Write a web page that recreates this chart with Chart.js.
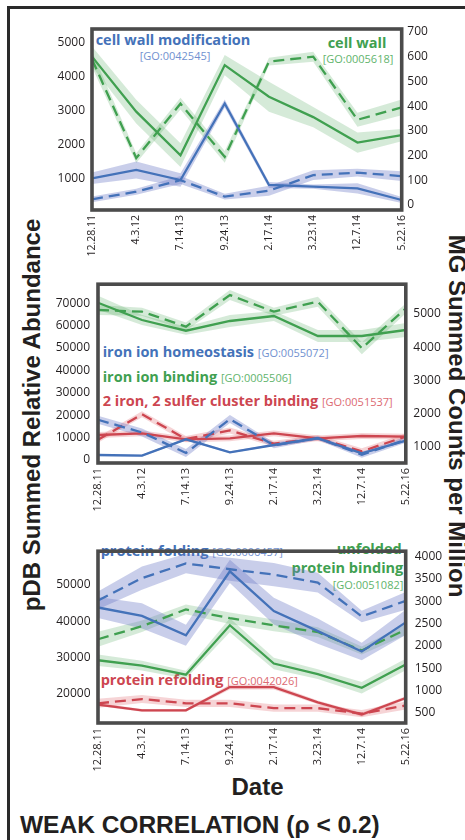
<!DOCTYPE html>
<html>
<head>
<meta charset="UTF-8">
<title>Weak correlation</title>
<script src="https://cdn.jsdelivr.net/npm/chart.js"></script>
<style>
  body { margin:0; width:465px; height:840px; overflow:hidden; background:#fff; position:relative; font-family:'Open Sans', sans-serif; }
  .frame { position:absolute; left:7px; top:6px; width:600px; height:900px; border-left:3px solid #2a2a2a; border-top:3px solid #2a2a2a; }
  canvas { position:absolute; left:0; z-index:2; }
  .note { position:absolute; white-space:nowrap; line-height:1; font-size:14.5px; font-weight:bold; z-index:1; }
  .note span { font-weight:normal; font-size:11px; }
  .go { position:absolute; white-space:nowrap; line-height:1; font-size:11px; z-index:1; }
  .big { position:absolute; white-space:nowrap; line-height:1; font-family:'Liberation Sans', Arial, sans-serif; font-weight:bold; font-size:24px; color:#231f20; }
</style>
</head>
<body>
<div class="frame"></div>

<!-- panel 1 notes -->
<div class="note" style="left:173px; top:33px; transform:translateX(-50%); color:#4472b9">cell wall modification</div>
<div class="go" style="left:175px; top:50px; transform:translateX(-50%); color:#7191d0">[GO:0042545]</div>
<div class="note" style="left:357px; top:36px; transform:translateX(-50%); color:#40a050">cell wall</div>
<div class="go" style="left:358px; top:53px; transform:translateX(-50%); color:#5fb46c">[GO:0005618]</div>

<!-- panel 2 notes -->
<div class="note" style="left:102.7px; top:344.6px; color:#4472b9">iron ion homeostasis <span style="color:#7191d0">[GO:0055072]</span></div>
<div class="note" style="left:102.7px; top:370.4px; color:#40a050">iron ion binding <span style="color:#5fb46c">[GO:0005506]</span></div>
<div class="note" style="left:102.7px; top:393.8px; color:#cd4650">2 iron, 2 sulfer cluster binding <span style="color:#dc6a72">[GO:0051537]</span></div>

<!-- panel 3 notes -->
<div class="note" style="left:100.7px; top:543.6px; color:#4472b9">protein folding <span style="color:#7191d0">[GO:0006457]</span></div>
<div class="note" style="right:63.3px; top:541.6px; color:#40a050">unfolded</div>
<div class="note" style="right:61.7px; top:561.4px; color:#40a050">protein binding</div>
<div class="go" style="right:61.7px; top:579.2px; color:#5fb46c">[GO:0051082]</div>
<div class="note" style="left:100.7px; top:672.8px; color:#cd4650">protein refolding <span style="color:#dc6a72">[GO:0042026]</span></div>

<canvas id="c1" width="465" height="265" style="top:0px"></canvas>
<canvas id="c2" width="465" height="265" style="top:268px"></canvas>
<canvas id="c3" width="465" height="240" style="top:535px"></canvas>

<div class="big" style="left:32px; top:415px; transform:translate(-50%,-50%) rotate(-90deg)">pDB Summed Relative Abundance</div>
<div class="big" style="left:457.3px; top:416px; transform:translate(-50%,-50%) rotate(90deg)">MG Summed Counts per Million</div>
<div class="big" style="left:257.5px; top:774.7px; transform:translateX(-50%)">Date</div>
<div class="big" style="left:20px; top:812.5px; font-size:24.5px">WEAK CORRELATION (ρ &lt; 0.2)</div>

<script>
const dates = ['12.28.11', '4.3.12', '7.14.13', '9.24.13', '2.17.14', '3.23.14', '12.7.14', '5.22.16'];

// panel 1: solid = pDB (left axis), dashed = MG (right axis); *Err = half width of shaded band
const wallModPdb = [1020, 1265, 970, 3220, 824, 775, 726, 382];
const wallModPdbErr = [170, 250, 200, 120, 90, 60, 150, 90];
const wallModMg = [23, 54, 101, 34, 58, 121, 131, 117];
const wallModMgErr = [12, 12, 16, 12, 20, 20, 16, 20];
const wallPdb = [4600, 2980, 1700, 4350, 3420, 2820, 2070, 2290];
const wallPdbErr = [300, 350, 350, 300, 440, 300, 300, 180];
const wallMg = [590, 190, 410, 195, 580, 600, 345, 395];
const wallMgErr = [32, 20, 24, 24, 16, 20, 28, 32];
const p1LeftTicks = [1000, 2000, 3000, 4000, 5000];
const p1RightTicks = [0, 100, 200, 300, 400, 500, 600, 700];

// panel 2
const ironHomeoPdb = [2230, 1920, 9240, 3440, 6700, 9690, 2990, 8620];
const ironHomeoPdbErr = [450, 450, 450, 450, 450, 450, 450, 450];
const ironHomeoMg = [1812, 1430, 810, 1833, 1040, 1260, 760, 1210];
const ironHomeoMgErr = [120, 120, 120, 120, 90, 60, 90, 90];
const ironBindPdb = [70250, 62530, 57750, 62080, 64310, 55380, 55380, 58060];
const ironBindPdbErr = [3100, 2200, 1800, 2700, 2200, 2700, 2700, 3100];
const ironBindMg = [5120, 5070, 4620, 5570, 5070, 5370, 3970, 5170];
const ironBindMgErr = [150, 120, 120, 150, 120, 150, 180, 150];
const sulferPdb = [11170, 11910, 9240, 9690, 11910, 9690, 10720, 10420];
const sulferPdbErr = [1300, 1300, 1300, 1300, 1300, 1300, 1300, 1300];
const sulferMg = [1210, 1980, 1230, 1490, 1090, 1260, 860, 1310];
const sulferMgErr = [90, 90, 90, 90, 90, 90, 90, 90];
const p2LeftTicks = [0, 10000, 20000, 30000, 40000, 50000, 60000, 70000];
const p2RightTicks = [1000, 2000, 3000, 4000, 5000];

// panel 3
const foldPdb = [43760, 41430, 36070, 53750, 42770, 37250, 31630, 39660];
const foldPdbErr = [2900, 3500, 2900, 3200, 3700, 3500, 2400, 3500];
const foldMg = [3020, 3520, 3850, 3720, 3600, 3420, 2660, 3010];
const foldMgErr = [200, 260, 220, 260, 260, 220, 130, 200];
const unfoldPdb = [29200, 27690, 25200, 38860, 28300, 25360, 21610, 28040];
const unfoldPdbErr = [1600, 1340, 1070, 1900, 1600, 1340, 1600, 1600];
const unfoldMg = [2148, 2440, 2817, 2620, 2460, 2310, 1895, 2365];
const unfoldMgErr = [170, 130, 110, 130, 130, 110, 90, 120];
const refoldPdb = [16970, 15370, 15370, 21800, 21800, 17590, 14210, 18770];
const refoldPdbErr = [400, 400, 400, 700, 700, 500, 500, 500];
const refoldMg = [709, 805, 709, 709, 600, 600, 478, 660];
const refoldMgErr = [100, 90, 80, 80, 80, 80, 80, 90];
const p3LeftTicks = [20000, 30000, 40000, 50000];
const p3RightTicks = [500, 1000, 1500, 2000, 2500, 3000, 3500, 4000];

const BLUE = '#4472b9', GREEN = '#40a050', RED = '#cd4650';
const BLUE_BAND = 'rgba(105,118,196,0.36)';
const GREEN_BAND = 'rgba(80,168,92,0.24)';
const RED_BAND = 'rgba(220,90,95,0.26)';

// band (upper, lower filled to upper) + the line itself
function series(vals, err, color, band, axis, dashed) {
  const none = 'rgba(0,0,0,0)';
  return [
    { data: vals.map((v, i) => v + err[i]), yAxisID: axis, borderColor: none, borderWidth: 0, pointRadius: 0, fill: false, order: 2 },
    { data: vals.map((v, i) => v - err[i]), yAxisID: axis, borderColor: none, borderWidth: 0, pointRadius: 0, fill: '-1', backgroundColor: band, order: 2 },
    { data: vals, yAxisID: axis, borderColor: color, borderWidth: 2.3, borderDash: dashed ? [11, 6] : [], pointRadius: 0, fill: false, order: 1 }
  ];
}

const boxPlugin = {
  id: 'box',
  afterDraw(chart) {
    const { ctx, chartArea: a } = chart;
    ctx.save();
    ctx.strokeStyle = '#4b4b4b';
    ctx.lineWidth = 3.6;
    ctx.strokeRect(a.left, a.top, a.right - a.left, a.bottom - a.top);
    ctx.restore();
  }
};

function yScale(pos, min, max, ticks, width, pad) {
  return {
    position: pos, min: min, max: max,
    grid: { display: false, drawTicks: false },
    border: { display: false },
    ticks: { padding: pad, color: '#231f20', font: { family: 'Open Sans', size: 12 }, callback: v => String(v) },
    afterBuildTicks: s => { s.ticks = ticks.map(v => ({ value: v })); },
    afterFit: s => { s.width = width; }
  };
}

function makePanel(id, sets, p) {
  return new Chart(document.getElementById(id), {
    type: 'line',
    data: { labels: dates, datasets: sets },
    plugins: [boxPlugin],
    options: {
      responsive: false,
      animation: false,
      layout: { padding: { top: p.top, left: 0, right: 0, bottom: 0 } },
      plugins: { legend: { display: false }, tooltip: { enabled: false } },
      elements: { line: { tension: 0 } },
      scales: {
        x: {
          grid: { display: false, drawTicks: false },
          border: { display: false },
          ticks: { autoSkip: false, maxRotation: 90, minRotation: 90, padding: 5, color: '#231f20', font: { family: 'Open Sans', size: p.xFont } },
          afterFit: s => { s.height = p.xH; }
        },
        yL: yScale('left', p.lMin, p.lMax, p.lTicks, p.L, p.lPad),
        yR: yScale('right', p.rMin, p.rMax, p.rTicks, p.R, p.rPad)
      }
    }
  });
}

makePanel('c1', [].concat(
  series(wallModPdb, wallModPdbErr, BLUE, BLUE_BAND, 'yL', false),
  series(wallModMg, wallModMgErr, BLUE, BLUE_BAND, 'yR', true),
  series(wallPdb, wallPdbErr, GREEN, GREEN_BAND, 'yL', false),
  series(wallMg, wallMgErr, GREEN, GREEN_BAND, 'yR', true)
), { top: 29, xH: 55, L: 92, R: 63.3, lPad: 7, rPad: 5.6, xFont: 10.5,
     lMin: 88, lMax: 5412, lTicks: p1LeftTicks, rMin: -20, rMax: 712, rTicks: p1RightTicks });

makePanel('c2', [].concat(
  series(ironHomeoPdb, ironHomeoPdbErr, BLUE, BLUE_BAND, 'yL', false),
  series(ironHomeoMg, ironHomeoMgErr, BLUE, BLUE_BAND, 'yR', true),
  series(ironBindPdb, ironBindPdbErr, GREEN, GREEN_BAND, 'yL', false),
  series(ironBindMg, ironBindMgErr, GREEN, GREEN_BAND, 'yR', true),
  series(sulferPdb, sulferPdbErr, RED, RED_BAND, 'yL', false),
  series(sulferMg, sulferMgErr, RED, RED_BAND, 'yR', true)
), { top: 16.2, xH: 70, L: 98, R: 59.2, lPad: 8, rPad: 7.5, xFont: 11,
     lMin: -1340, lMax: 78516, lTicks: p2LeftTicks, rMin: 509, rMax: 5898, rTicks: p2RightTicks });

makePanel('c3', [].concat(
  series(foldPdb, foldPdbErr, BLUE, BLUE_BAND, 'yL', false),
  series(foldMg, foldMgErr, BLUE, BLUE_BAND, 'yR', true),
  series(unfoldPdb, unfoldPdbErr, GREEN, GREEN_BAND, 'yL', false),
  series(unfoldMg, unfoldMgErr, GREEN, GREEN_BAND, 'yR', true),
  series(refoldPdb, refoldPdbErr, RED, RED_BAND, 'yL', false),
  series(refoldMg, refoldMgErr, RED, RED_BAND, 'yR', true)
), { top: 11, xH: 52, L: 98, R: 59.3, lPad: 7.5, rPad: 9, xFont: 11,
     lMin: 11883, lMax: 59298, lTicks: p3LeftTicks, rMin: 267, rMax: 4125, rTicks: p3RightTicks });
</script>
</body>
</html>
